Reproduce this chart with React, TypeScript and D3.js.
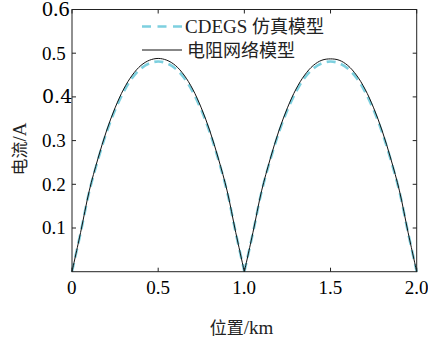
import React from "react";
import * as d3 from "d3";

const xValues = [
  0, 0.05, 0.1, 0.15, 0.2, 0.25, 0.3, 0.35, 0.4, 0.45, 0.5, 0.55, 0.6, 0.65, 0.7, 0.75, 0.8, 0.85, 0.9, 0.95, 1.0,
  1.05, 1.1, 1.15, 1.2, 1.25, 1.3, 1.35, 1.4, 1.45, 1.5, 1.55, 1.6, 1.65, 1.7, 1.75, 1.8, 1.85, 1.9, 1.95, 2.0,
];
const resistanceModel = [
  0, 0.09, 0.185, 0.258, 0.322, 0.375, 0.418, 0.45, 0.472, 0.484, 0.488, 0.484, 0.472, 0.45, 0.418, 0.375, 0.322, 0.258, 0.185, 0.09, 0,
  0.09, 0.185, 0.258, 0.322, 0.375, 0.418, 0.45, 0.472, 0.484, 0.487, 0.484, 0.472, 0.45, 0.418, 0.375, 0.322, 0.258, 0.185, 0.09, 0,
];
const cdegsModel = [
  0, 0.089, 0.183, 0.255, 0.318, 0.37, 0.412, 0.444, 0.465, 0.477, 0.481, 0.477, 0.465, 0.444, 0.412, 0.37, 0.318, 0.255, 0.183, 0.089, 0,
  0.089, 0.183, 0.255, 0.318, 0.37, 0.412, 0.444, 0.465, 0.477, 0.481, 0.477, 0.465, 0.444, 0.412, 0.37, 0.318, 0.255, 0.183, 0.089, 0,
];
const xTicks = [0, 0.5, 1.0, 1.5, 2.0];
const xTickLabels = ["0", "0.5", "1.0", "1.5", "2.0"];
const yTicks = [0.1, 0.2, 0.3, 0.4, 0.5, 0.6];
const yTickLabels = ["0.1", "0.2", "0.3", "0.4", "0.5", "0.6"];
const legendLabels = ["CDEGS 仿真模型", "电阻网络模型"];
const xTitle = "位置/km";
const yTitle = "电流/A";

const CJK = "Noto Sans CJK SC";
const isCJK = (ch: string) => /[\u3000-\u9fff\uff00-\uffef]/.test(ch);

function runs(s: string) {
  const out: { t: string; cjk: boolean }[] = [];
  for (const ch of s) {
    const c = isCJK(ch);
    if (out.length && out[out.length - 1].cjk === c) out[out.length - 1].t += ch;
    else out.push({ t: ch, cjk: c });
  }
  return out;
}

function MixedText(props: { s: string; size?: number; cjkSize?: number; [k: string]: any }) {
  const { s, size = 19, cjkSize = 17, ...rest } = props;
  return (
    <text fill="#222" fontSize={size} {...rest}>
      {runs(s).map((r, i) =>
        r.cjk ? (
          <tspan key={i} fontFamily={CJK} fontSize={cjkSize}>
            {r.t}
          </tspan>
        ) : (
          <tspan key={i} fontFamily="Liberation Serif" fontSize={size}>
            {r.t}
          </tspan>
        )
      )}
    </text>
  );
}

const yFontVariants = ["Liberation Serif", "Times New Roman", "Tinos", "DejaVu Serif", "serif", "Liberation Serif"];

export default function App() {
  const left = 72, right = 416.7, top = 9.5, bottom = 271.7;
  const x = d3.scaleLinear().domain([0, 2]).range([left, right]);
  const y = d3.scaleLinear().domain([0, 0.6]).range([bottom, top]);

  const makePath = (vals: number[]) => {
    const pts = xValues.map((xv, i) => [xv, vals[i]] as [number, number]);
    const line = d3
      .line<[number, number]>()
      .x((d) => x(d[0]))
      .y((d) => y(d[1]))
      .curve(d3.curveCatmullRom.alpha(0.5));
    const seg1 = pts.filter((p) => p[0] <= 1.0001);
    const seg2 = pts.filter((p) => p[0] >= 0.9999);
    return (line(seg1) || "") + (line(seg2) || "");
  };

  const cyan = "#7dd0df";
  const tickLen = 4;
  const fs = 19;
  const base = fs * 0.34;

  return (
    <svg width={428} height={344} style={{ position: "absolute", left: 0, top: 0, background: "#fff" }}>
      <rect x={0} y={0} width={428} height={344} fill="#fff" />
      <path d={makePath(cdegsModel)} fill="none" stroke={cyan} strokeWidth={2.6} strokeDasharray="9,5.5" />
      <path d={makePath(resistanceModel)} fill="none" stroke="#111" strokeWidth={1} />

      <rect x={left} y={top} width={right - left} height={bottom - top} fill="none" stroke="#222" strokeWidth={1} />
      {xTicks.map((t) => (
        <g key={"xt" + t}>
          <line x1={x(t)} x2={x(t)} y1={bottom} y2={bottom - tickLen} stroke="#222" />
          <line x1={x(t)} x2={x(t)} y1={top} y2={top + tickLen} stroke="#222" />
        </g>
      ))}
      {yTicks.map((t) => (
        <g key={"yt" + t}>
          <line x1={left} x2={left + tickLen} y1={y(t)} y2={y(t)} stroke="#222" />
          <line x1={right} x2={right - tickLen} y1={y(t)} y2={y(t)} stroke="#222" />
        </g>
      ))}
      {xTicks.map((t, i) => (
        <text key={"xl" + t} x={x(t) - (xTickLabels[i].length > 1 ? 12 : 5)} y={288 + base} fontFamily="Liberation Serif" fontSize={fs} fill="#000">
          {xTickLabels[i]}
        </text>
      ))}
      {yTicks.map((t, i) => (
        <text key={"yl" + t} x={42} y={y(t) + base} fontFamily={yFontVariants[i]} fontSize={i === 5 ? 22 : fs} fill="#000">
          {yTickLabels[i]}
        </text>
      ))}

      <line x1={142} x2={182} y1={26.5} y2={26.5} stroke={cyan} strokeWidth={2.6} strokeDasharray="9,6.5" />
      <MixedText s={legendLabels[0]} x={185} y={27 + base} cjkSize={18} />
      <line x1={142} x2={182} y1={50} y2={50} stroke="#111" strokeWidth={1} />
      <MixedText s={legendLabels[1]} x={187} y={50.5 + base} cjkSize={18} />

      <MixedText s={xTitle} x={241.5} y={328 + base} textAnchor="middle" cjkSize={17} />
      <MixedText s={yTitle} transform={`translate(${20 + base},149) rotate(-90)`} textAnchor="middle" cjkSize={17} />
    </svg>
  );
}
